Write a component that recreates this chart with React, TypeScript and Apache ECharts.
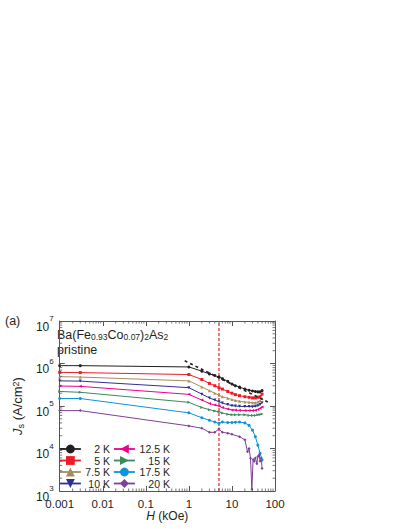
import React, { useEffect, useRef } from 'react';
import * as echarts from 'echarts';

// ---- data ----
const fieldsMain = [0.001, 0.003, 1, 2, 3, 4, 5, 6, 8, 10, 12, 15, 20, 25, 30, 35, 40, 45, 50];
const js2K = [8.9e5, 8.9e5, 8.3e5, 6.6e5, 5.7e5, 5.2e5, 4.8e5, 4.4e5, 3.8e5, 3.3e5, 3.0e5, 2.8e5, 2.5e5, 2.35e5, 2.25e5, 2.2e5, 2.15e5, 2.15e5, 2.3e5];
const js5K = [6.2e5, 6.1e5, 5.5e5, 4.2e5, 3.4e5, 3.0e5, 2.7e5, 2.5e5, 2.2e5, 2.0e5, 1.85e5, 1.75e5, 1.65e5, 1.6e5, 1.55e5, 1.55e5, 1.6e5, 1.65e5, 1.9e5];
const js7p5K = [4.9e5, 4.8e5, 3.9e5, 2.8e5, 2.3e5, 2.0e5, 1.8e5, 1.65e5, 1.52e5, 1.42e5, 1.35e5, 1.3e5, 1.25e5, 1.22e5, 1.2e5, 1.2e5, 1.25e5, 1.32e5, 1.5e5];
const js10K = [3.9e5, 3.85e5, 2.7e5, 1.9e5, 1.55e5, 1.38e5, 1.26e5, 1.17e5, 1.08e5, 1.02e5, 1.0e5, 9.8e4, 9.7e4, 9.7e4, 9.6e4, 9.8e4, 1.02e5, 1.08e5, 1.2e5];
const js12p5K = [2.95e5, 2.9e5, 1.88e5, 1.38e5, 1.15e5, 1.05e5, 1.0e5, 9.2e4, 8.5e4, 8.1e4, 8.0e4, 7.9e4, 7.8e4, 7.8e4, 7.8e4, 7.9e4, 8.3e4, 8.8e4, 9.5e4];
const js15K = [2.2e5, 2.1e5, 1.22e5, 9.2e4, 8.2e4, 7.6e4, 7.3e4, 6.8e4, 6.4e4, 6.2e4, 6.2e4, 6.2e4, 6.2e4, 6.0e4, 6.0e4, 6.0e4, 6.2e4, 6.3e4, 6.5e4];
const js17p5K = [1.5e5, 1.5e5, 6.9e4, 5.3e4, 4.6e4, 4.2e4, 3.9e4, 4.2e4, 4.1e4, 4.1e4, 4.15e4, 4.2e4, 4.0e4, 3.5e4, 2.7e4, 1.9e4, 1.2e4, 7.7e3, 5.4e3];
const fields20K = [0.001, 0.003, 1, 2, 3, 4, 5, 6, 8, 10, 15, 20, 23, 25, 27, 29, 31, 33, 35, 38, 40, 43, 45, 48, 50];
const js20K = [7.8e4, 7.8e4, 3.4e4, 3.0e4, 2.4e4, 2.4e4, 2.9e4, 2.4e4, 2.3e4, 2.15e4, 1.9e4, 1.6e4, 8.4e3, 1.0e4, 5.9e3, 1.1e3, 5.5e3, 5.0e3, 6.0e3, 4.4e3, 6.5e3, 7.0e3, 5.0e3, 6.0e3, 3.4e3];

const seriesNames = ['2 K', '5 K', '7.5 K', '10 K', '12.5 K', '15 K', '17.5 K', '20 K'];
const seriesColors = ['#231f20', '#ed1c24', '#a68c5f', '#2e3192', '#ec008c', '#3b8b5a', '#0f94d8', '#7f3f98'];
const seriesSymbols = [
  'circle',
  'rect',
  'triangle',
  'path://M0,0 L10,0 L5,9 Z',
  'path://M9,0 L9,10 L0,5 Z',
  'path://M0,0 L0,10 L9,5 Z',
  'circle',
  'path://M3,0 L6,6 L3,12 L0,6 Z',
];
const seriesFields = [fieldsMain, fieldsMain, fieldsMain, fieldsMain, fieldsMain, fieldsMain, fieldsMain, fields20K];
const seriesValues = [js2K, js5K, js7p5K, js10K, js12p5K, js15K, js17p5K, js20K];

const fitLineH = [0.8, 68];
const fitLineJ = [1.16e6, 1.24e5];
const dashedFieldH = [5, 5];
const dashedFieldJ = [1e3, 1e7];

const xTickLabels = ['0.001', '0.01', '0.1', '1', '10', '100'];
const xDecades = [-3, -2, -1, 0, 1];
const yDecades = [3, 4, 5, 6];
const minorMultiples = [2, 3, 4, 5, 6, 7, 8, 9];

const FONT = '"Liberation Sans", Arial, Helvetica, sans-serif';
const TXT = '#231f20';
const AX = '#555';

export default function App() {
  const ref = useRef<HTMLDivElement>(null);
  useEffect(() => {
    document.body.style.margin = '0';
    if (!ref.current) return;
    const chart = echarts.init(ref.current, undefined, { renderer: 'svg' });

    const minorData: number[][] = [];
    xDecades.forEach((d) => minorMultiples.forEach((m) => minorData.push([m * Math.pow(10, d), 1e3, 0])));
    yDecades.forEach((d) => minorMultiples.forEach((m) => minorData.push([1e-3, m * Math.pow(10, d), 1])));

    const renderMinor = (params: any, api: any) => {
      const kind = api.value(2);
      const st = { stroke: AX, lineWidth: 0.8 };
      const L = 2.5;
      if (kind === 0) {
        const v = api.value(0);
        const b = api.coord([v, 1e3]);
        const t = api.coord([v, 1e7]);
        return {
          type: 'group',
          children: [
            { type: 'line', shape: { x1: b[0], y1: b[1], x2: b[0], y2: b[1] - L }, style: st },
            { type: 'line', shape: { x1: t[0], y1: t[1], x2: t[0], y2: t[1] + L }, style: st },
          ],
        };
      }
      const v = api.value(1);
      const l = api.coord([1e-3, v]);
      const r = api.coord([100, v]);
      return {
        type: 'group',
        children: [
          { type: 'line', shape: { x1: l[0], y1: l[1], x2: l[0] + L, y2: l[1] }, style: st },
          { type: 'line', shape: { x1: r[0], y1: r[1], x2: r[0] - L, y2: r[1] }, style: st },
        ],
      };
    };

    const dataSeries = seriesNames.map((name, i) => ({
      name,
      type: 'line',
      xAxisIndex: 0,
      yAxisIndex: 0,
      data: seriesFields[i].map((h, k) => [h, seriesValues[i][k]]),
      symbol: seriesSymbols[i],
      symbolSize: 3,
      showSymbol: true,
      color: seriesColors[i],
      lineStyle: { width: 1, color: seriesColors[i] },
      itemStyle: { color: seriesColors[i] },
      z: 3,
    }));

    const legendBase = {
      orient: 'vertical',
      itemWidth: 21,
      itemHeight: 11,
      itemGap: 0.5,
      selectedMode: false,
      formatter: '{t|{name}}',
      lineStyle: { width: 1.8 },
    };

    const axisCommon = {
      type: 'log',
      logBase: 10,
      axisLine: { show: true, lineStyle: { color: AX, width: 1 } },
      axisTick: { show: true, inside: true, length: 5, lineStyle: { color: AX, width: 1 } },
      splitLine: { show: false },
      minorTick: { show: false },
    };

    chart.setOption({
      animation: false,
      backgroundColor: '#ffffff',
      grid: { left: 48, top: 321, width: 227, height: 170, containLabel: false },
      xAxis: [
        {
          ...axisCommon,
          position: 'bottom',
          min: 0.001,
          max: 100,
          axisLabel: {
            show: true,
            margin: 6.5,
            fontSize: 11.5,
            fontFamily: FONT,
            color: TXT,
            formatter: (v: number) => xTickLabels[Math.round(Math.log10(v)) + 3],
          },
          name: '{i|H}{n| (kOe)}',
          nameLocation: 'middle',
          nameGap: 18,
          nameTextStyle: {
            fontFamily: FONT,
            color: TXT,
            fontSize: 12,
            rich: {
              i: { fontStyle: 'italic', fontSize: 12, fontFamily: FONT, color: TXT },
              n: { fontSize: 12, fontFamily: FONT, color: TXT },
            },
          },
        },
        {
          ...axisCommon,
          position: 'top',
          min: 0.001,
          max: 100,
          axisLabel: { show: false },
        },
      ],
      yAxis: [
        {
          ...axisCommon,
          position: 'left',
          min: 1e3,
          max: 1e7,
          axisLabel: {
            show: true,
            margin: 6,
            fontFamily: FONT,
            color: TXT,
            padding: [5, 0, 0, 0],
            formatter: (v: number) => `{b|10}{s|${Math.round(Math.log10(v))}}`,
            rich: {
              b: { fontSize: 12, fontFamily: FONT, color: TXT, lineHeight: 18, verticalAlign: 'bottom' },
              s: { fontSize: 8, fontFamily: FONT, color: TXT, lineHeight: 8, verticalAlign: 'top' },
            },
          },
          name: '{i|J}{sub|s}{n| (A/cm}{sup|2}{n|)}',
          nameLocation: 'middle',
          nameRotate: 90,
          nameGap: 28,
          nameTextStyle: {
            fontFamily: FONT,
            color: TXT,
            fontSize: 13,
            rich: {
              i: { fontStyle: 'italic', fontSize: 13, fontFamily: FONT, color: TXT, lineHeight: 14, verticalAlign: 'top' },
              n: { fontSize: 13, fontFamily: FONT, color: TXT, lineHeight: 14, verticalAlign: 'top' },
              sub: { fontSize: 9, fontFamily: FONT, color: TXT, lineHeight: 9, padding: [8, 0, 0, 0], verticalAlign: 'bottom' },
              sup: { fontSize: 9, fontFamily: FONT, color: TXT, lineHeight: 9, verticalAlign: 'top', padding: [0, 0, 0, 0] },
            },
          },
        },
        {
          ...axisCommon,
          position: 'right',
          min: 1e3,
          max: 1e7,
          axisLabel: { show: false },
        },
      ],
      legend: [
        {
          ...legendBase,
          data: seriesNames.slice(0, 4),
          left: 54,
          top: 438.5,
          textStyle: {
            fontFamily: FONT,
            color: TXT,
            fontSize: 10.5,
            rich: { t: { width: 24, align: 'right', fontSize: 10.5, lineHeight: 12, fontFamily: FONT, color: TXT } },
          },
        },
        {
          ...legendBase,
          data: seriesNames.slice(4),
          left: 108,
          top: 438.5,
          textStyle: {
            fontFamily: FONT,
            color: TXT,
            fontSize: 10.5,
            rich: { t: { width: 30, align: 'right', fontSize: 10.5, lineHeight: 12, fontFamily: FONT, color: TXT } },
          },
        },
      ],
      graphic: [
        { type: 'text', left: 5, top: 314, style: { text: '(a)', fontSize: 12.5, fontFamily: FONT, fill: TXT } },
        {
          type: 'text',
          left: 57,
          top: 326.5,
          style: {
            text: '{m|Ba(Fe}{s|0.93}{m|Co}{s|0.07}{m|)}{s|2}{m|As}{s|2}',
            fontFamily: FONT,
            fill: TXT,
            rich: {
              m: { fontSize: 12.5, lineHeight: 13, verticalAlign: 'top', fontFamily: FONT, fill: TXT },
              s: { fontSize: 8.5, lineHeight: 9, padding: [6, 0, 0, 0], verticalAlign: 'bottom', fontFamily: FONT, fill: TXT },
            },
          },
        },
        { type: 'text', left: 57, top: 343, style: { text: 'pristine', fontSize: 12.5, fontFamily: FONT, fill: TXT } },
      ],
      series: [
        ...dataSeries,
        {
          name: 'fit',
          type: 'line',
          data: fitLineH.map((h, k) => [h, fitLineJ[k]]),
          symbol: 'none',
          lineStyle: { color: '#231f20', width: 1.6, type: [3, 3] },
          z: 4,
        },
        {
          name: 'Hline',
          type: 'line',
          data: dashedFieldH.map((h, k) => [h, dashedFieldJ[k]]),
          symbol: 'none',
          lineStyle: { color: '#ed1c24', width: 1.2, type: [3, 2] },
          z: 2,
        },
        {
          type: 'custom',
          coordinateSystem: 'cartesian2d',
          renderItem: renderMinor,
          data: minorData,
          silent: true,
          clip: false,
          z: 5,
        },
      ],
    });
    return () => chart.dispose();
  }, []);
  return <div ref={ref} style={{ width: 409, height: 529 }} />;
}
